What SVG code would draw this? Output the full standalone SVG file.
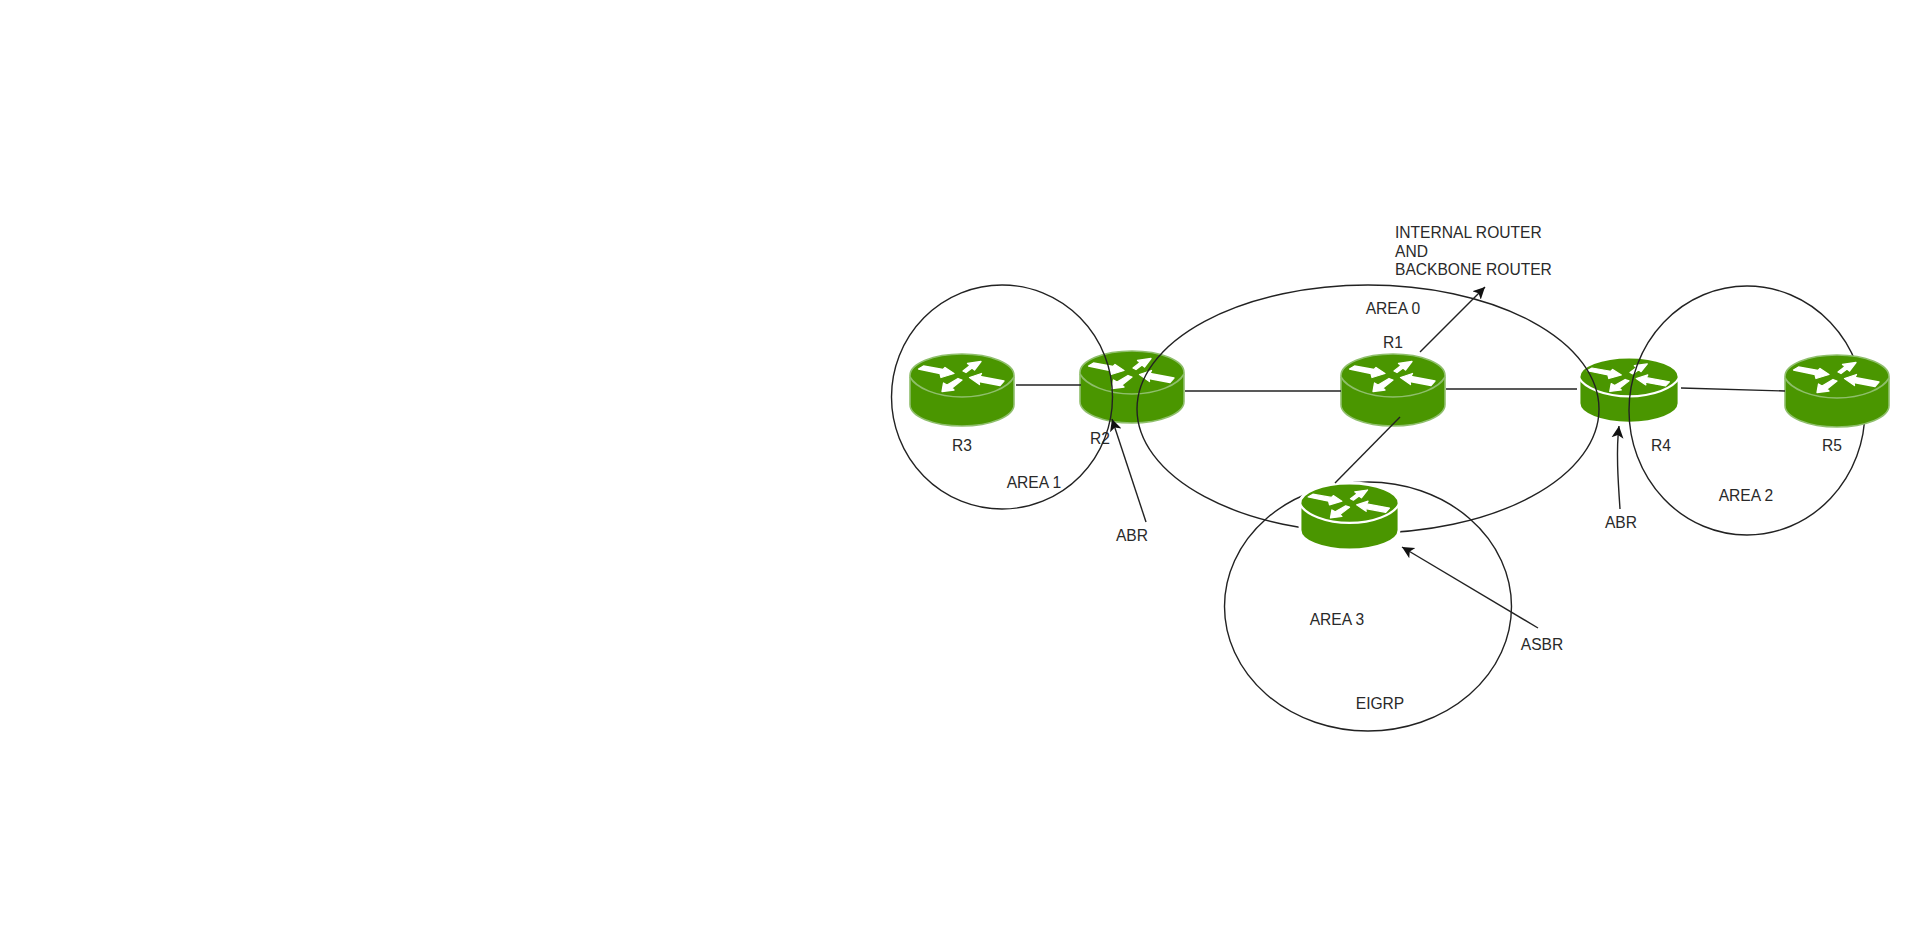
<svg xmlns="http://www.w3.org/2000/svg" xmlns:xlink="http://www.w3.org/1999/xlink" width="1920" height="950" viewBox="0 0 1920 950">
<style>
text{font-family:"Liberation Sans",Arial,sans-serif;font-size:15.6px;fill:#2a2a2a}
.m{text-anchor:middle}
.area{fill:none;stroke:#222;stroke-width:1.4}
.link{fill:none;stroke:#222;stroke-width:1.4}
.arr{fill:none;stroke:#222;stroke-width:1.4;marker-end:url(#head)}
.body{fill:#4a9600}
.pale{stroke:#8fbf6c;stroke-width:1.6}
.bright{stroke:#fff;stroke-width:3}
.rim{fill:none}
.glyph{fill:#fff;stroke:#fff;stroke-width:1.3;stroke-linejoin:round}
</style>
<defs>
<marker id="head" markerUnits="userSpaceOnUse" markerWidth="14" markerHeight="14" refX="12" refY="6" orient="auto" viewBox="0 0 14 12"><path d="M0 0L12 6L0 12L3 6Z" fill="#111"/></marker>
<g id="glyphs">
<path class="glyph" d="M8.5 15L13.5 12L33 15.5L35 13.5L44 19.5L31 23.5L30 19.5Z"/>
<path class="glyph" d="M71 7.5L64.5 16L62 14L56 18.5L53 17L60 11.5L57.5 9.5Z"/>
<path class="glyph" d="M59.5 23.5L71.5 19.5L70 22.5L94 27L90 31.5L69 27.5L69.5 30.5Z"/>
<path class="glyph" d="M32 37.5L33.5 29L37 31L48 24.5L52 26L42 34L44 36Z"/>
</g>
<g id="rt">
<path class="body pale" d="M0 21.5C0 9.6 23.3 0 52 0S104 9.6 104 21.5V50.5C104 62.4 80.7 72 52 72S0 62.4 0 50.5Z"/>
<path class="rim" stroke="#8fbf6c" stroke-width="1.6" d="M0 23C6 34 27 43 52 43S98 34 104 23"/>
<use href="#glyphs"/>
</g>
<g id="rtb">
<path class="body bright" d="M0 21.5C0 9.6 23.3 0 52 0S104 9.6 104 21.5V50.5C104 62.4 80.7 72 52 72S0 62.4 0 50.5Z"/>
<path class="rim" stroke="#fff" stroke-width="2.4" d="M0 23C6 34 27 43 52 43S98 34 104 23"/>
<use href="#glyphs"/>
</g>
</defs>
<rect width="1920" height="950" fill="#fff"/>
<g id="R3"><use href="#rt" x="910" y="354"/><text class="m" x="962" y="451">R3</text></g>
<g id="R2"><use href="#rt" x="1080" y="351"/><text class="m" x="1100" y="444">R2</text></g>
<g id="R1"><use href="#rt" x="1341" y="354"/><text class="m" x="1393" y="348">R1</text></g>
<g id="R4"><use href="#rtb" transform="translate(1579 357) scale(.962 .917)"/><text class="m" x="1661" y="451">R4</text></g>
<g id="area1"><ellipse class="area" cx="1002" cy="397" rx="110.5" ry="112"/><text class="m" x="1034" y="488">AREA 1</text></g>
<g id="area0"><ellipse class="area" cx="1368" cy="409" rx="231" ry="124"/><text class="m" x="1393" y="314">AREA 0</text></g>
<g id="area2"><ellipse class="area" cx="1747" cy="410.5" rx="118" ry="124.5"/><text class="m" x="1746" y="501">AREA 2</text></g>
<g id="area3"><ellipse class="area" cx="1368" cy="606.5" rx="143.5" ry="124.5"/><text class="m" x="1337" y="625">AREA 3</text><text class="m" x="1380" y="709">EIGRP</text></g>
<g id="R5"><use href="#rt" x="1785" y="355"/><text class="m" x="1832" y="451">R5</text></g>
<g id="ASBR-router"><use href="#rtb" transform="translate(1300 483) scale(.952 .93)"/></g>
<g id="connectors">
<path class="link" d="M1016 385H1081"/>
<path class="link" d="M1185 391H1341"/>
<path class="link" d="M1446 389H1577"/>
<path class="link" d="M1681 388L1785 391"/>
<path class="link" d="M1400 417L1335 483"/>
<path class="arr" d="M1146 522L1112 419"/>
<path class="arr" d="M1420 352L1485 287"/>
<path class="arr" d="M1620 509C1618 480 1616 450 1619 426"/>
<path class="arr" d="M1538 628L1402 547"/>
</g>
<g id="labels">
<text class="m" x="1132" y="541">ABR</text>
<text class="m" x="1621" y="528">ABR</text>
<text class="m" x="1542" y="650">ASBR</text>
<text x="1395" y="238">INTERNAL ROUTER</text>
<text x="1395" y="257">AND</text>
<text x="1395" y="275">BACKBONE ROUTER</text>
</g>
</svg>
